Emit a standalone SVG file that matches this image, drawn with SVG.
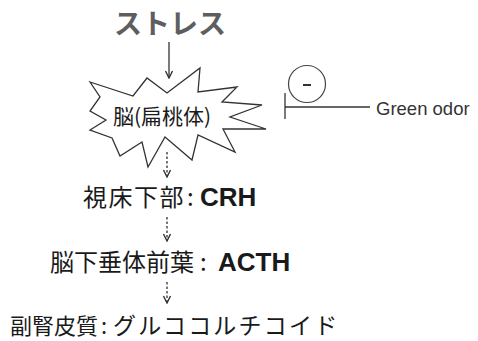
<svg xmlns="http://www.w3.org/2000/svg" width="478" height="341" viewBox="0 0 478 341">
<style>
.jp{font-family:"Noto Sans CJK JP","Liberation Sans",sans-serif;fill:#1a1a1a}
.lat{font-family:"Liberation Sans",Arial,sans-serif;fill:#1a1a1a}
.b{font-weight:bold}
.conn{stroke:#333;stroke-width:1.3;fill:none}
.dash{stroke-dasharray:2.5 2}
</style>
<defs>
<marker id="v" viewBox="0 0 10 10" refX="9" refY="5" markerWidth="10" markerHeight="10" markerUnits="userSpaceOnUse" orient="auto">
<path d="M2,1.5 L9,5 L2,8.5" fill="none" stroke="#333" stroke-width="1.4"/>
</marker>
</defs>
<rect width="478" height="341" fill="#fff"/>
<g id="stress">
<text class="jp" x="114" y="34" font-size="28" font-weight="bold" style="fill:#5e5e5e">ストレス</text>
</g>
<g id="brain">
<polygon points="90,82 133,96 147,78 167,93 200,68 198,92 237,87 222,102 262,105 230,117 266,129 223,129 235,152 198,135 192,160 165,137 148,167 142,142 120,156 112,138 90,130 106,120 90,111 100,97" fill="#fff" stroke="#333" stroke-width="1.3" stroke-linejoin="miter"/>
<text class="jp" x="113" y="124" font-size="21">脳(扁桃体)</text>
</g>
<g id="green-odor">
<circle cx="307" cy="84" r="18.5" fill="none" stroke="#444" stroke-width="1.2"/>
<line x1="303" y1="85" x2="311" y2="85" stroke="#333" stroke-width="2"/>
<text class="lat" x="376" y="115" font-size="18.5" style="fill:#333">Green odor</text>
</g>
<g id="hypothalamus">
<text x="83" y="206"><tspan class="jp" font-size="24" letter-spacing="1.5">視床下部</tspan><tspan class="jp" x="187" font-size="24">:</tspan><tspan class="lat b" x="200" font-size="26">CRH</tspan></text>
</g>
<g id="pituitary">
<text x="50" y="271"><tspan class="jp" font-size="24">脳下垂体前葉</tspan><tspan class="jp" x="200" font-size="24">:</tspan><tspan class="lat b" x="218" font-size="26">ACTH</tspan></text>
</g>
<g id="adrenal">
<text x="10" y="334"><tspan class="jp" font-size="22">副腎皮質</tspan><tspan class="jp" x="101" font-size="22">:</tspan><tspan class="jp" x="113" font-size="23" letter-spacing="2.2">グルココルチコイド</tspan></text>
</g>
<g id="connectors">
<line class="conn" x1="169" y1="42" x2="169" y2="78" marker-end="url(#v)"/>
<line class="conn dash" x1="167" y1="152" x2="167" y2="177" marker-end="url(#v)"/>
<line class="conn dash" x1="167" y1="217" x2="167" y2="241" marker-end="url(#v)"/>
<line class="conn dash" x1="167" y1="282" x2="167" y2="303" marker-end="url(#v)"/>
<line class="conn" x1="285" y1="107" x2="370" y2="107" stroke="#555"/>
<line class="conn" x1="285" y1="93" x2="285" y2="119" stroke="#555" stroke-width="1.8"/>
</g>
</svg>
